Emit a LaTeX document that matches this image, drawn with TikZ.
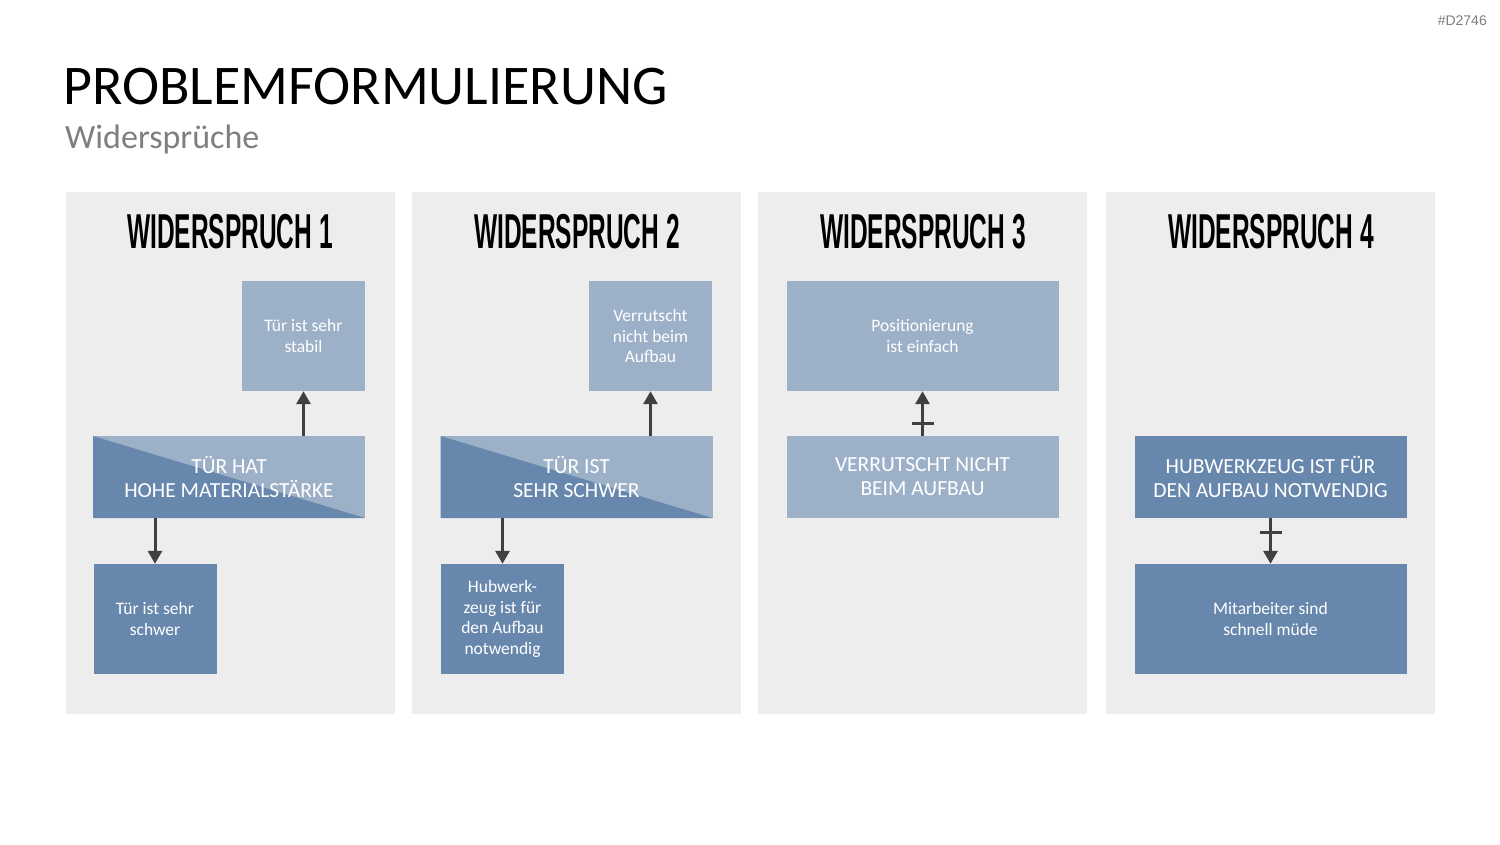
\documentclass[tikz,border=0pt]{standalone}
\usepackage{fontspec}
\setmainfont{Carlito}
\newfontfamily\headfont[FakeStretch=0.5]{Liberation Sans Bold}
\newfontfamily\codefont{Liberation Sans}
\usetikzlibrary{arrows.meta,decorations.markings}
\definecolor{panelbg}{HTML}{EDEDED}
\definecolor{darkb}{HTML}{6887AD}
\definecolor{lightb}{HTML}{9CB1C8}
\definecolor{arrcol}{HTML}{404040}
\definecolor{subgray}{HTML}{7F7F7F}
\tikzset{
  panel/.style={fill=panelbg, draw=none, minimum width=329pt, minimum height=522pt, inner sep=0pt},
  head/.style={font=\headfont\fontsize{49}{49}\selectfont, text=black, inner sep=0pt},
  bigbox/.style={minimum width=272pt, minimum height=82pt, inner sep=0pt, text=white, align=center,
     font=\fontsize{21.5}{24}\selectfont},
  smallbox/.style={minimum width=123pt, minimum height=110pt, inner sep=0pt, text=white, align=center,
     font=\fontsize{17.5}{20.5}\selectfont},
  widebox/.style={minimum width=272pt, minimum height=110pt, inner sep=0pt, text=white, align=center,
     font=\fontsize{17.5}{20.5}\selectfont},
  darkbox/.style={fill=darkb},
  lightbox/.style={fill=lightb},
  splitbox/.style={fill=lightb, path picture={\fill[darkb] (path picture bounding box.north west) -- (path picture bounding box.south west) -- (path picture bounding box.south east) -- cycle;}},
  arr/.style={draw=arrcol, line width=3pt, -{Triangle[width=14pt,length=13pt]}},
  barmark/.style={postaction={decorate, decoration={markings, mark=at position #1 with {\draw[arrcol, line width=3pt, -] (0,-11pt) -- (0,11pt);}}}}
}
\begin{document}
\begin{tikzpicture}[x=1pt,y=-1pt]
\useasboundingbox (0,0) rectangle (1500,844);
\fill[white] (0,0) rectangle (1500,844);
\node[anchor=base east, inner sep=0pt, text=subgray, font=\codefont\fontsize{14}{14}\selectfont] (code) at (1487,25) {\#D2746};
\node[anchor=base west, inner sep=0pt, font=\fontsize{56}{56}\selectfont] (title) at (63,104) {PROBLEMFORMULIERUNG};
\node[anchor=base west, inner sep=0pt, text=subgray, font=\fontsize{34}{34}\selectfont] (sub) at (65,148) {Widersprüche};

% panels
\node[panel] (p1) at (230.5,453) {};
\node[panel] (p2) at (576.5,453) {};
\node[panel] (p3) at (922.5,453) {};
\node[panel] (p4) at (1270.5,453) {};

\node[head, anchor=base] (h1) at (230,248) {WIDERSPRUCH 1};
\node[head, anchor=base] (h2) at (577,248) {WIDERSPRUCH 2};
\node[head, anchor=base] (h3) at (923,248) {WIDERSPRUCH 3};
\node[head, anchor=base] (h4) at (1271,248) {WIDERSPRUCH 4};

% panel 1
\node[smallbox, lightbox] (t1) at (303.5,336) {Tür ist sehr\\stabil};
\node[bigbox, splitbox] (m1) at (229,477) {TÜR HAT\\HOHE MATERIALSTÄRKE};
\node[smallbox, darkbox] (b1) at (155,619) {Tür ist sehr\\schwer};
\draw[arr] (t1.south |- m1.north) -- (t1.south);
\draw[arr] (b1.north |- m1.south) -- (b1.north);

% panel 2
\node[smallbox, lightbox] (t2) at (650.5,336) {Verrutscht\\nicht beim\\Aufbau};
\node[bigbox, splitbox] (m2) at (576.5,477) {TÜR IST\\SEHR SCHWER};
\node[smallbox, darkbox] (b2) at (502.5,619) {Hubwerk-\\zeug ist für\\den Aufbau\\notwendig};
\draw[arr] (t2.south |- m2.north) -- (t2.south);
\draw[arr] (b2.north |- m2.south) -- (b2.north);

% panel 3
\node[widebox, lightbox] (t3) at (922.5,336) {Positionierung\\ist einfach};
\node[bigbox, lightbox] (m3) at (922.5,477) {VERRUTSCHT NICHT\\BEIM AUFBAU};
\draw[arr, barmark=12pt] (m3.north) -- (t3.south);

% panel 4
\node[bigbox, darkbox] (m4) at (1270.5,477) {HUBWERKZEUG IST FÜR\\DEN AUFBAU NOTWENDIG};
\node[widebox, darkbox] (b4) at (1270.5,619) {Mitarbeiter sind\\schnell müde};
\draw[arr, barmark=14pt] (m4.south) -- (b4.north);
\end{tikzpicture}
\end{document}
